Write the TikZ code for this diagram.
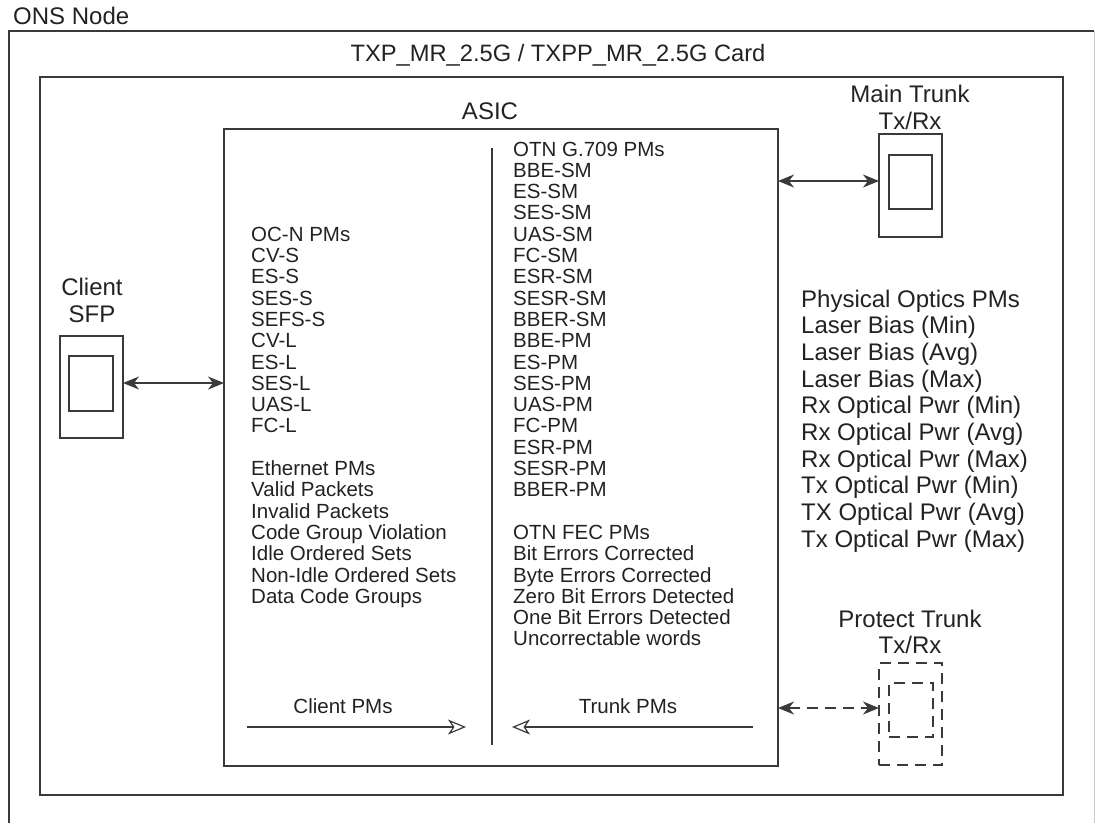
\documentclass[tikz,border=0pt]{standalone}
\usepackage{fontspec}
\setmainfont{Liberation Sans}
\usetikzlibrary{arrows.meta}
\definecolor{ln}{HTML}{3A3A3A}
\definecolor{tx}{HTML}{222222}
\tikzset{
  box/.style={draw=ln, line width=1.2pt, inner sep=0pt, outer sep=0pt, anchor=north west},
  bigbox/.style={box, line width=1.5pt},
  dbox/.style={box, dash pattern=on 11pt off 7pt},
  lbl/.style={text=tx, inner sep=0pt, font=\fontsize{24}{27}\selectfont},
  lst/.style={text=tx, inner sep=0pt, anchor=base west, font=\fontsize{20.5}{21.3}\selectfont},
  phy/.style={text=tx, inner sep=0pt, anchor=base west, font=\fontsize{24}{26.7}\selectfont},
  biarrow/.style={draw=ln, line width=1.2pt, {Stealth[length=16pt,width=13pt,inset=5pt]}-{Stealth[length=16pt,width=13pt,inset=5pt]}},
  pmarrow/.style={draw=ln, line width=1.2pt, -{Stealth[open,length=18pt,width=15pt,inset=5pt]}},
}
\begin{document}
\begin{tikzpicture}[x=1pt,y=-1pt]
\useasboundingbox (0,0) rectangle (1095,823);
% ONS node outer frame (open at bottom)
\coordinate (onsbl) at (9,823);
\coordinate (onstl) at (9,31);
\coordinate (onstr) at (1094,31);
\coordinate (onsbr) at (1094,823);
\draw[ln, line width=1.2pt] (onsbl) -- (onstl) -- (onstr);
\draw[gray!40, line width=1pt] (onstr) -- (onsbr);
\node[lbl, anchor=base west] (ons) at (13,24) {ONS Node};
% card
\node[bigbox, minimum width=1023pt, minimum height=718pt] (card) at (40,77) {};
\node[lbl, anchor=base, font=\fontsize{23.7}{27}\selectfont] (cardt) at (558,61) {TXP\_MR\_2.5G / TXPP\_MR\_2.5G Card};
% ASIC
\node[bigbox, minimum width=554pt, minimum height=637pt] (asic) at (224,129) {};
\node[lbl, anchor=base] (asict) at (490,119) {ASIC};
\coordinate (divt) at (492,148);
\coordinate (divb) at (492,745);
\draw[ln, line width=1.2pt] (divt) -- (divb);
% Client SFP
\node[box, minimum width=63pt, minimum height=102pt] (sfp) at (60,336) {};
\node[box, minimum width=44pt, minimum height=55pt] (sfpi) at (69,356) {};
\node[lbl, anchor=base] (sfpt1) at (92,295) {Client};
\node[lbl, anchor=base] (sfpt2) at (92,322) {SFP};
\coordinate (sfpa) at (123,383);
\coordinate (sfpb) at (224,383);
\draw[biarrow] (sfpa) -- (sfpb);
% Main trunk
\node[box, minimum width=63pt, minimum height=103pt] (mt) at (879,134) {};
\node[box, minimum width=43pt, minimum height=54pt] (mti) at (889,155) {};
\node[lbl, anchor=base] (mtt1) at (910,102) {Main Trunk};
\node[lbl, anchor=base] (mtt2) at (910,129) {Tx/Rx};
\coordinate (mta) at (778,181);
\coordinate (mtb) at (879,181);
\draw[biarrow] (mta) -- (mtb);
% Protect trunk
\node[dbox, minimum width=63pt, minimum height=102pt] (pt) at (879,663) {};
\node[dbox, minimum width=44pt, minimum height=54pt] (pti) at (889,683) {};
\node[lbl, anchor=base] (ptt1) at (910,627) {Protect Trunk};
\node[lbl, anchor=base] (ptt2) at (910,653) {Tx/Rx};
\coordinate (pta) at (778,708);
\coordinate (ptb) at (879,708);
\draw[biarrow, dash pattern=on 11pt off 7pt] (pta) -- (ptb);
% Client / Trunk PMs
\coordinate (cpa) at (247,727);
\coordinate (cpb) at (466,727);
\draw[pmarrow] (cpa) -- (cpb);
\node[lst, anchor=base] (cpt) at (343,713) {Client PMs};
\coordinate (tpa) at (753,727);
\coordinate (tpb) at (512,727);
\draw[pmarrow] (tpa) -- (tpb);
\node[lst, anchor=base] (tpt) at (628,713) {Trunk PMs};
% lists
\foreach \t [count=\i from 0] in {OTN G.709 PMs, BBE-SM, ES-SM, SES-SM, UAS-SM, FC-SM, ESR-SM, SESR-SM, BBER-SM, BBE-PM, ES-PM, SES-PM, UAS-PM, FC-PM, ESR-PM, SESR-PM, BBER-PM}
  \node[lst] (ra\i) at (513,156+21.3*\i) {\t};
\foreach \t [count=\i from 18] in {OTN FEC PMs, Bit Errors Corrected, Byte Errors Corrected, Zero Bit Errors Detected, One Bit Errors Detected, Uncorrectable words}
  \node[lst] (rb\i) at (513,156+21.3*\i) {\t};
\foreach \t [count=\i from 4] in {OC-N PMs, CV-S, ES-S, SES-S, SEFS-S, CV-L, ES-L, SES-L, UAS-L, FC-L}
  \node[lst] (la\i) at (251,156+21.3*\i) {\t};
\foreach \t [count=\i from 15] in {Ethernet PMs, Valid Packets, Invalid Packets, Code Group Violation, Idle Ordered Sets, Non-Idle Ordered Sets, Data Code Groups}
  \node[lst] (lb\i) at (251,156+21.3*\i) {\t};
\foreach \t [count=\i from 0] in {Physical Optics PMs, Laser Bias (Min), Laser Bias (Avg), Laser Bias (Max), Rx Optical Pwr (Min), Rx Optical Pwr (Avg), Rx Optical Pwr (Max), Tx Optical Pwr (Min), TX Optical Pwr (Avg), Tx Optical Pwr (Max)}
  \node[phy] (p\i) at (801,307+26.7*\i) {\t};
\end{tikzpicture}
\end{document}
